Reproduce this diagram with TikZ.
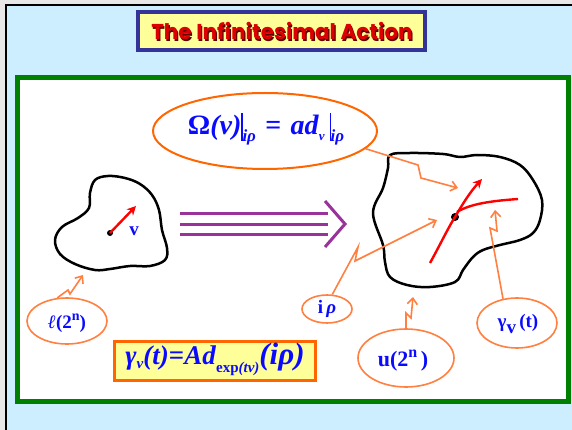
\documentclass[tikz,border=0pt]{standalone}
\usepackage{fontspec}
\setmainfont{Liberation Serif}
\newfontfamily\titlefont{Poppins}
\usetikzlibrary{shapes.geometric,arrows.meta}
\definecolor{bgblue}{RGB}{204,238,255}
\definecolor{frameblue}{RGB}{51,51,153}
\definecolor{paleyellow}{RGB}{255,255,153}
\definecolor{titlered}{RGB}{220,0,0}
\definecolor{titledark}{RGB}{90,0,0}
\definecolor{framegreen}{RGB}{0,128,0}
\definecolor{orA}{RGB}{255,102,0}
\definecolor{orB}{RGB}{255,128,64}
\definecolor{purp}{RGB}{153,51,153}
\definecolor{txtblue}{RGB}{10,10,255}
\newcommand\fsz[1]{\fontsize{#1}{#1}\selectfont}
\tikzset{
  blob/.style={line width=2.5pt, black, line join=round},
  lab/.style={ellipse, draw=orB, line width=1.6pt, inner sep=0pt},
  bolt/.style={draw=orB, line width=1.6pt, line join=miter, -{Straight Barb[length=6pt,width=10pt]}},
  redarr/.style={draw=red, line width=2.4pt, -{Stealth[length=9pt,width=9pt]}},
  purpline/.style={draw=purp, line width=3pt},
  txt/.style={text=txtblue, inner sep=0pt},
  dot/.style={circle, fill=black, inner sep=0pt, minimum size=#1},
  dot/.default=6pt
}
\begin{document}
\begin{tikzpicture}[x=1pt,y=-1pt]
\useasboundingbox (0,0) rectangle (572,430);
\fill[bgblue] (0,0) rectangle (572,430);
\fill[gray!18] (0,0) rectangle (572,4);
\fill[gray!18] (0,0) rectangle (5,430);
\draw[line width=2pt] (6,430) -- (6,5) -- (572,5);
\draw[draw=framegreen, fill=white, line width=5pt] (17.5,77.5) rectangle (568,401.5);

% title
\node[draw=frameblue, line width=4pt, fill=paleyellow, minimum width=287pt, minimum height=38pt, inner sep=0pt] (title) at (281.5,31) {};
\node[text=titledark, inner sep=0pt] (titleshadow) at (283.2,32.6) {\titlefont\bfseries\fsz{21.5}The Infinitesimal Action};
\node[text=titlered, inner sep=0pt] (titletext) at (282,31.2) {\titlefont\bfseries\fsz{21.5}The Infinitesimal Action};

% Omega ellipse
\node[ellipse, draw=orA, line width=2pt, minimum width=224pt, minimum height=76pt, inner sep=0pt] (om) at (265,131) {};
\node[txt] (omtext) at (266,129) {\bfseries\fsz{28}Ω\textit{(v)}\rule[-6pt]{1.1pt}{28pt}\raisebox{-7pt}{\fsz{17}\textit{iρ}}\,\,=\,\,\textit{ad}\raisebox{-6pt}{\fsz{13}\textit{v}}\,\rule[-6pt]{1.1pt}{28pt}\raisebox{-7pt}{\fsz{17}\textit{iρ}}};

% left blob
\draw[blob] plot[smooth cycle, tension=0.6] coordinates {(90,193) (95,180) (108,176) (125,178) (140,184) (152,195) (159,210) (162,230) (167,248) (165,260) (150,266) (130,266) (110,269) (95,270) (75,264) (60,254) (55,240) (62,227) (78,218) (89,208)};
\node[dot] (p) at (110,233) {};
\coordinate (tipL) at (136,206);
\draw[redarr] (p.center) -- (tipL);
\node[txt] (vlab) at (134,231) {\bfseries\fsz{19}v};

% purple arrow
\coordinate (pa1) at (180,214); \coordinate (pb1) at (328,214);
\coordinate (pa2) at (180,224); \coordinate (pb2) at (328,224);
\coordinate (pa3) at (180,234); \coordinate (pb3) at (328,234);
\draw[purpline] (pa1) -- (pb1);
\draw[purpline] (pa2) -- (pb2);
\draw[purpline] (pa3) -- (pb3);
\coordinate (ch1) at (325,201); \coordinate (ch2) at (345,224); \coordinate (ch3) at (325,247);
\draw[purpline, line join=miter] (ch1) -- (ch2) -- (ch3);

% right blob
\draw[blob] plot[smooth cycle, tension=0.6] coordinates {(390,155) (410,153) (443,154) (460,157) (477,155) (500,157) (520,165) (533,180) (542,200) (540,220) (533,233) (520,240) (500,245) (483,250) (473,257) (463,270) (455,282) (430,287) (407,285) (390,277) (385,262) (383,245) (373,213) (383,188) (388,168)};
\node[dot=8pt] (q) at (455,217) {};
\coordinate (c1s) at (430,263);
\coordinate (c1e) at (482,179);
\draw[redarr] (c1s) .. controls (440,245) and (448,228) .. (q.center) .. controls (462,205) and (470,192) .. (c1e);
\coordinate (c2e) at (518,199);
\draw[draw=red, line width=2.4pt] (q.center) ++(2,-5) .. controls (470,204) and (490,201) .. (c2e);

% formula box
\node[draw=orA, line width=2.5pt, fill=paleyellow, minimum width=201pt, minimum height=39pt, inner sep=0pt] (gbox) at (215,361) {};
\node[txt] (gtext) at (215,359) {\bfseries\fsz{27}\textit{γ}\raisebox{-4pt}{\fsz{15}\textit{v}}\textit{(t)}=\textit{Ad}\raisebox{-8pt}{\fsz{15}exp\textit{(tv)}}{\fsz{31}\textit{(iρ)}}};

% label ellipses
\node[lab, minimum width=80pt, minimum height=46pt] (el) at (67,321) {};
\node[txt] (eltext) at (67,323) {\bfseries\fsz{19}\textit{ℓ}(2\raisebox{8pt}{\fsz{14}n})};
\node[lab, minimum width=50pt, minimum height=28pt] (ip) at (327,309) {};
\node[txt] (iptext) at (327,309) {\bfseries\fsz{19}i\,\textit{ρ}};
\node[lab, minimum width=96pt, minimum height=58pt] (u) at (406,358) {};
\node[txt] (utext) at (403,361) {\bfseries\fsz{22}u(2\raisebox{9pt}{\fsz{16}n}\,)};
\node[lab, minimum width=80pt, minimum height=50pt] (g) at (517,323) {};
\node[txt] (gltext) at (518,324) {\bfseries\fsz{19}γ\raisebox{-6pt}{v}\,(t)};

% lightning connectors
\coordinate (t1) at (458,188);
\draw[bolt] (om.-10) -- (418,165) -- (421,178) -- (t1);
\coordinate (t2) at (437,220);
\draw[bolt] (ip.70) -- (358,247) -- (355,261) -- (t2);
\coordinate (t3) at (413,297);
\draw[bolt] (u.90) -- (406,313) -- (411,318) -- (t3);
\coordinate (t4) at (495,210);
\draw[bolt] (g.120) -- (490,228) -- (497,231) -- (t4);
\coordinate (t5) at (83,275);
\draw[bolt] (el.113) -- (68,290) -- (70,294) -- (t5);
\end{tikzpicture}
\end{document}
